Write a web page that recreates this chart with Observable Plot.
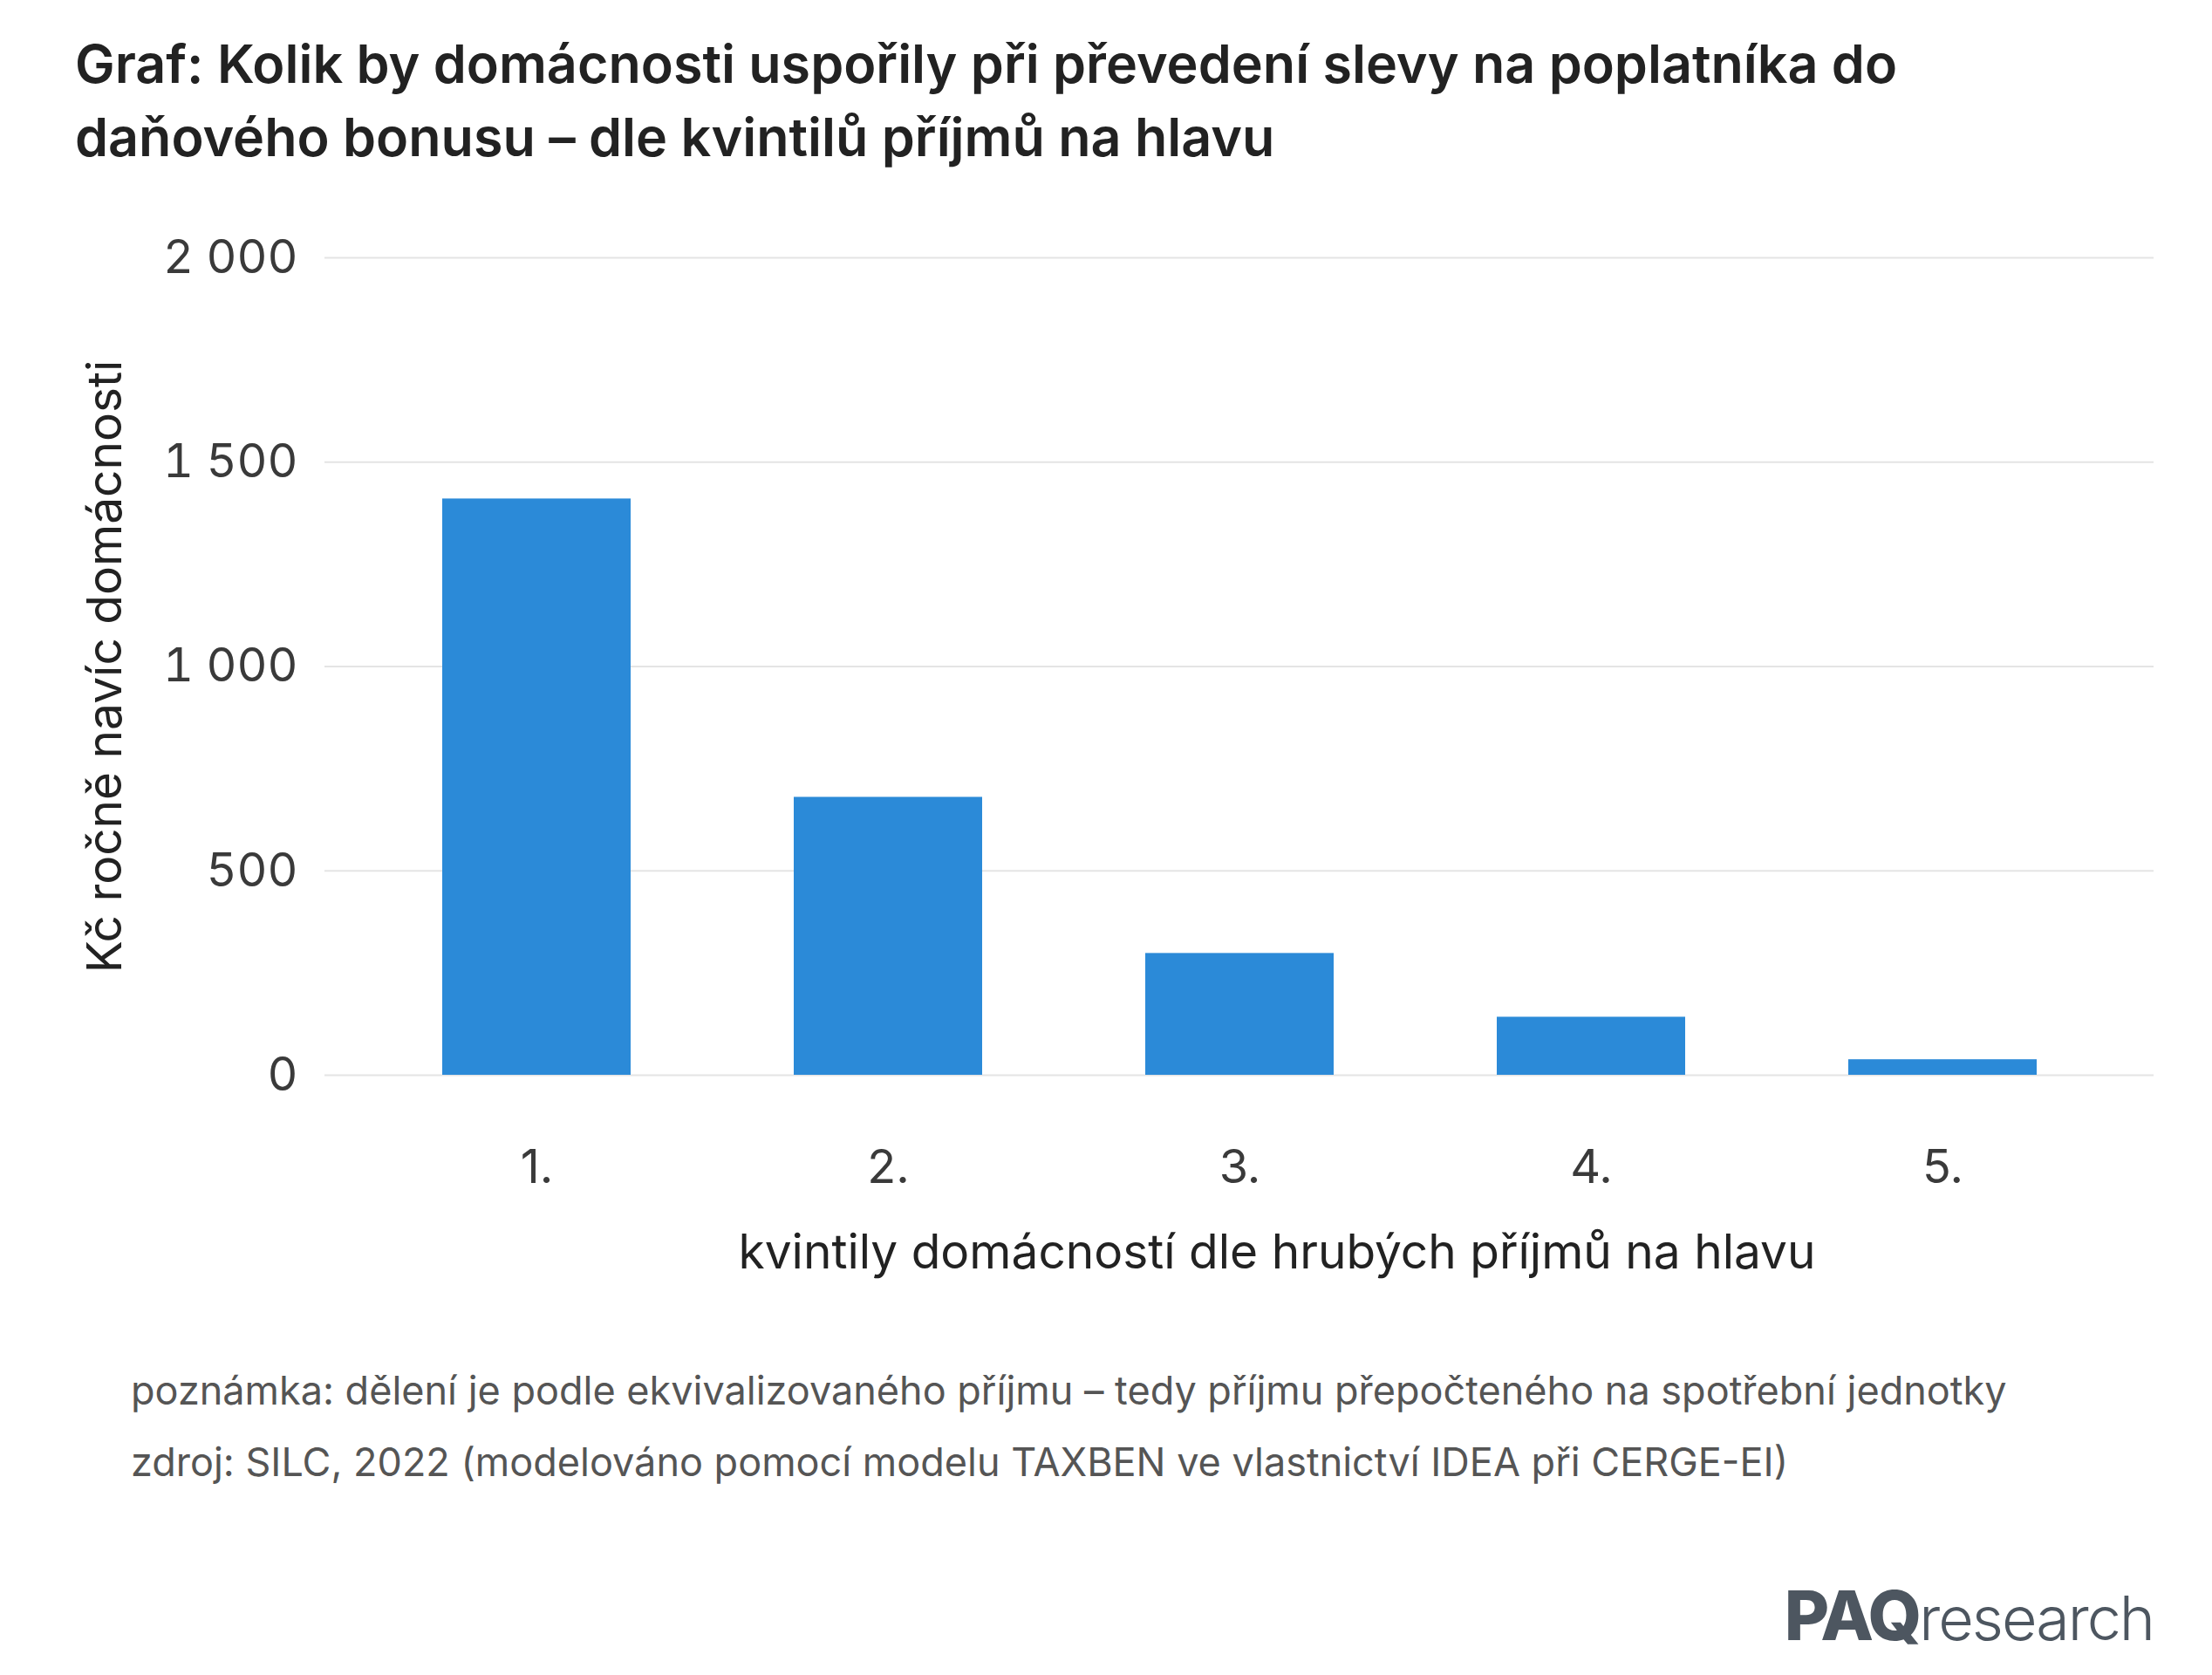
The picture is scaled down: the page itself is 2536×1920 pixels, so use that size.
<!DOCTYPE html>
<html lang="cs">
<head>
<meta charset="utf-8">
<script src="https://cdn.jsdelivr.net/npm/d3@7"></script>
<script src="https://cdn.jsdelivr.net/npm/@observablehq/plot@0.6"></script>
<style>
  html, body { margin: 0; padding: 0; background: #ffffff; }
  #page { position: relative; width: 2536px; height: 1920px; font-family: Inter, "Noto Sans", sans-serif; }
  #title { position: absolute; left: 86px; top: 31px; font-size: 61px; line-height: 84px; font-weight: 600; color: #222222; }
  #chart { position: absolute; left: 0; top: 240px; }
  .note { position: absolute; left: 150px; font-size: 45px; color: #555555; white-space: nowrap; }
  #logo { position: absolute; right: 67px; top: 1803px; color: #4d5660; white-space: nowrap; }
  #logo b { font-size: 79px; font-weight: 800; letter-spacing: -3px; }
  #logo span { font-size: 70px; font-weight: 300; letter-spacing: -2px; }
</style>
</head>
<body>
<div id="page">
  <div id="title">Graf: Kolik by domácnosti uspořily při převedení slevy na poplatníka do<br>daňového bonusu – dle kvintilů příjmů na hlavu</div>
  <div id="chart"></div>
  <div class="note" style="top:1566px">poznámka: dělení je podle ekvivalizovaného příjmu – tedy příjmu přepočteného na spotřební jednotky</div>
  <div class="note" style="top:1648px">zdroj: SILC, 2022 (modelováno pomocí modelu TAXBEN ve vlastnictví IDEA při CERGE-EI)</div>
  <div id="logo"><b>PAQ</b><span>research</span></div>
</div>
<script>
// Quintiles of households by gross income per head
const quintiles = ["1.", "2.", "3.", "4.", "5."];
// Extra CZK per household per year
const savings = [1410, 680, 298, 142, 38];
const yTicks = [0, 500, 1000, 1500, 2000];
const yLabel = "Kč ročně navíc domácnosti";
const xLabel = "kvintily domácností dle hrubých příjmů na hlavu";

const data = quintiles.map((q, i) => ({q, v: savings[i]}));
const cz = d3.formatLocale({decimal: ",", thousands: " ", grouping: [3], currency: ["", " Kč"]});
const fmt = cz.format(",d");

const chart = Plot.plot({
  width: 2536,
  height: 1240,
  marginTop: 55,
  marginBottom: 248,
  marginLeft: 372,
  marginRight: 67,
  style: {fontFamily: "Inter, 'Noto Sans', sans-serif", fontSize: "54px", color: "#3a3a3a", background: "#ffffff"},
  x: {domain: quintiles, paddingInner: 0.465, paddingOuter: 0.33},
  y: {domain: [0, 2000]},
  marks: [
    Plot.gridY(yTicks, {stroke: "#e4e4e4", strokeWidth: 2, strokeOpacity: 1}),
    Plot.barY(data, {x: "q", y: "v", fill: "#2b8ad8"}),
    Plot.axisY(yTicks, {tickSize: 0, tickPadding: 31, tickFormat: fmt, label: null, fill: "#3a3a3a"}),
    Plot.axisX({tickSize: 0, tickPadding: 85, label: null, fill: "#3a3a3a"}),
    Plot.text([yLabel], {frameAnchor: "left", dx: -251, rotate: -90, textAnchor: "middle", lineAnchor: "middle", fontSize: 55, fill: "#222222"}),
    Plot.text([xLabel], {frameAnchor: "bottom", dx: 43, dy: 204, textAnchor: "middle", lineAnchor: "middle", fontSize: 55, fill: "#222222"})
  ]
});
document.getElementById("chart").appendChild(chart);
</script>
</body>
</html>
